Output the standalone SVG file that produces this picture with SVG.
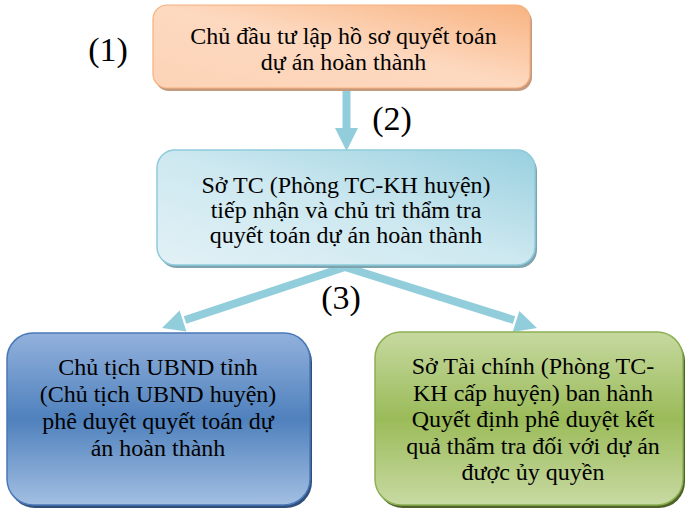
<svg xmlns="http://www.w3.org/2000/svg" width="687" height="514" viewBox="0 0 687 514">
  <defs>
    <linearGradient id="gOrange" x1="0" y1="1" x2="1" y2="0">
      <stop offset="0" stop-color="#fcd3b6"/>
      <stop offset="0.5" stop-color="#fdd9c0"/>
      <stop offset="1" stop-color="#f8b381"/>
    </linearGradient>
    <linearGradient id="gCyan" x1="0" y1="1" x2="1" y2="0">
      <stop offset="0" stop-color="#e2f1f6"/>
      <stop offset="0.5" stop-color="#cde8f0"/>
      <stop offset="1" stop-color="#98d0df"/>
    </linearGradient>
    <linearGradient id="gBlue" x1="0" y1="0" x2="0" y2="1">
      <stop offset="0" stop-color="#92b1dc"/>
      <stop offset="0.5" stop-color="#4f81bd"/>
      <stop offset="1" stop-color="#a3bfe2"/>
    </linearGradient>
    <linearGradient id="gGreen" x1="0" y1="0" x2="0" y2="1">
      <stop offset="0" stop-color="#c6d9a0"/>
      <stop offset="0.5" stop-color="#9bbb59"/>
      <stop offset="1" stop-color="#c8daa3"/>
    </linearGradient>
    <style>
      text { font-family: "Liberation Serif", "DejaVu Serif", serif; fill: #000; text-anchor: middle; }
      .t { font-size: 24px; }
      .lbl { font-size: 34px; }
      .arrow { stroke: #92cddc; stroke-width: 8; fill: none; }
      .head { fill: #92cddc; }
    </style>
  </defs>

  <!-- connectors -->
  <g id="connectors">
    <line class="arrow" x1="346.5" y1="90" x2="346.5" y2="132"/>
    <polygon class="head" points="335,128 358,128 346.5,151"/>
    <line class="arrow" x1="345" y1="267" x2="185" y2="320"/>
    <polygon class="head" points="162,328 179.6,310.5 186.4,331.5"/>
    <line class="arrow" x1="345" y1="267" x2="514" y2="320"/>
    <polygon class="head" points="537,328 519.3,310.9 512.7,331.9"/>
  </g>

  <!-- step 1: investor -->
  <g id="node-investor">
    <rect x="155" y="8" width="377" height="83" rx="14" fill="#c49a7e"/>
    <rect x="153" y="5" width="377" height="83" rx="14" fill="url(#gOrange)" stroke="#f6b07e" stroke-width="1.2"/>
    <text class="t" x="343.5" y="44">Chủ đầu tư lập hồ sơ quyết toán</text>
    <text class="t" x="343.5" y="70">dự án hoàn thành</text>
  </g>

  <!-- step 2: finance department review -->
  <g id="node-review">
    <rect x="159" y="153" width="378" height="115" rx="18" fill="#7fa3ae"/>
    <rect x="157" y="150" width="378" height="115" rx="18" fill="url(#gCyan)" stroke="#8ecbdb" stroke-width="1.5"/>
    <text class="t" x="346" y="193">Sở TC (Phòng TC-KH huyện)</text>
    <text class="t" x="346" y="218">tiếp nhận và chủ trì thẩm tra</text>
    <text class="t" x="346" y="243">quyết toán dự án hoàn thành</text>
  </g>

  <!-- step 3a: provincial chairman approval -->
  <g id="node-approve">
    <rect x="9" y="336" width="303" height="172" rx="26" fill="#2f4f7a"/>
    <rect x="7" y="333" width="303" height="172" rx="26" fill="url(#gBlue)" stroke="#4a78b8" stroke-width="1.5"/>
    <text class="t" x="158" y="375">Chủ tịch UBND tỉnh</text>
    <text class="t" x="158" y="402">(Chủ tịch UBND huyện)</text>
    <text class="t" x="158" y="429">phê duyệt quyết toán dự</text>
    <text class="t" x="158" y="456">án hoàn thành</text>
  </g>

  <!-- step 3b: delegated approval decision -->
  <g id="node-delegated">
    <rect x="377" y="335" width="308" height="173" rx="26" fill="#4f6228"/>
    <rect x="375" y="332" width="308" height="173" rx="26" fill="url(#gGreen)" stroke="#8db052" stroke-width="1.5"/>
    <text class="t" x="533" y="374">Sở Tài chính (Phòng TC-</text>
    <text class="t" x="533" y="401">KH cấp huyện) ban hành</text>
    <text class="t" x="533" y="427">Quyết định phê duyệt kết</text>
    <text class="t" x="533" y="454">quả thẩm tra đối với dự án</text>
    <text class="t" x="533" y="480">được ủy quyền</text>
  </g>

  <!-- step labels -->
  <g id="labels">
    <text class="lbl" x="108" y="61">(1)</text>
    <text class="lbl" x="392" y="130">(2)</text>
    <text class="lbl" x="341" y="309">(3)</text>
  </g>
</svg>
